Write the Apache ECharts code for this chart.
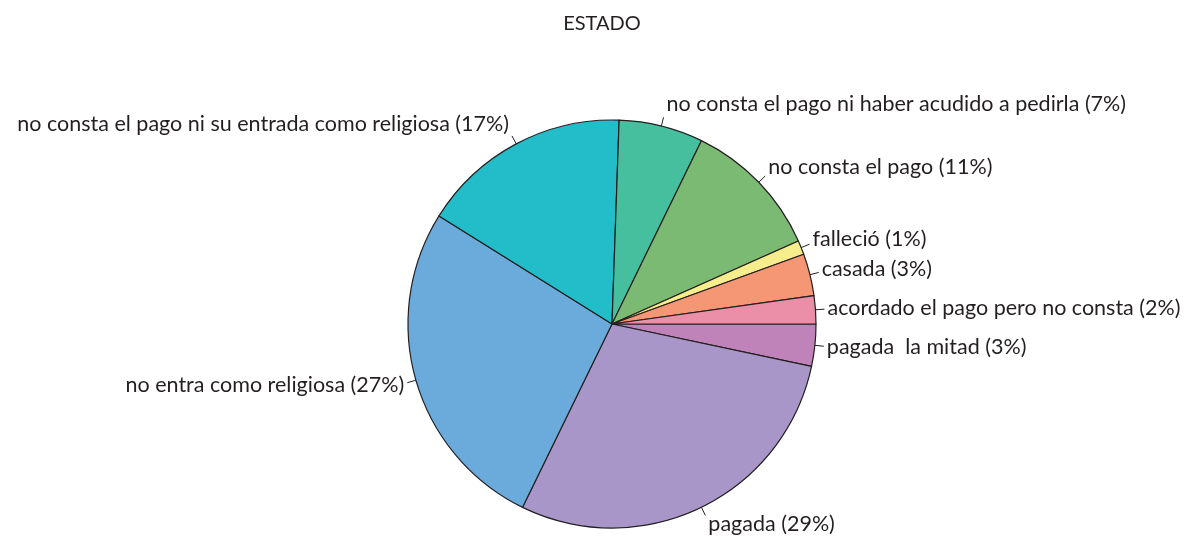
<!DOCTYPE html>
<html>
<head>
<meta charset="utf-8">
<title>ESTADO</title>
<script src="https://cdn.jsdelivr.net/npm/echarts@6/dist/echarts.min.js"></script>
<style>
  html, body { margin: 0; padding: 0; background: #ffffff; }
  #chart { width: 1196px; height: 536px; }
</style>
</head>
<body>
<div id="chart"></div>
<script>
// Status categories, clockwise from 3 o'clock
const categories = [
  'pagada  la mitad',
  'pagada',
  'no entra como religiosa',
  'no consta el pago ni su entrada como religiosa',
  'no consta el pago ni haber acudido a pedirla',
  'no consta el pago',
  'falleció',
  'casada',
  'acordado el pago pero no consta'
];
// Number of cases in each status
const counts = [3, 26, 24, 15, 6, 10, 1, 3, 2];
const colors = [
  '#bf83b9', '#a896c9', '#6aabdc', '#22bdc8', '#46bf9f',
  '#7bba72', '#f6ee8c', '#f59674', '#ea8fa7'
];

// Mid angle of every slice (radians, clockwise from 3 o'clock, screen y down)
const total = counts.reduce((a, b) => a + b, 0);
const midAngles = [];
let acc = 0;
counts.forEach(v => {
  midAngles.push((acc + v / 2) / total * Math.PI * 2);
  acc += v;
});

const chart = echarts.init(document.getElementById('chart'), null, { renderer: 'canvas' });
const font = 'Lato, "Noto Sans", sans-serif';

chart.setOption({
  animation: false,
  title: {
    text: 'ESTADO',
    left: 597,
    top: 9,
    textAlign: 'center',
    textStyle: { fontFamily: font, fontSize: 20, fontWeight: 'normal', color: '#231f20' }
  },
  series: [{
    type: 'pie',
    center: [612, 324],
    radius: 204,
    startAngle: 0,
    clockwise: true,
    avoidLabelOverlap: false,
    data: categories.map((name, i) => ({
      name,
      value: counts[i],
      itemStyle: { color: colors[i] }
    })),
    itemStyle: { borderColor: '#231f20', borderWidth: 1.2 },
    label: {
      show: true,
      position: 'outside',
      fontFamily: font,
      fontSize: 21.5,
      color: '#231f20',
      distanceToLabelLine: 3,
      formatter: p => p.name + ' (' + Math.round(p.percent) + '%)'
    },
    labelLine: {
      show: true,
      length: 9,
      length2: 0,
      lineStyle: { color: '#231f20', width: 1 }
    },
    // text sits above the leader on the upper half, below it on the lower half
    labelLayout: params => {
      const s = Math.sin(midAngles[params.dataIndex]);
      return { dy: s * params.labelRect.height * (s < 0 ? 0.6 : 0.45) };
    },
    emphasis: { disabled: true }
  }]
});
</script>
</body>
</html>
